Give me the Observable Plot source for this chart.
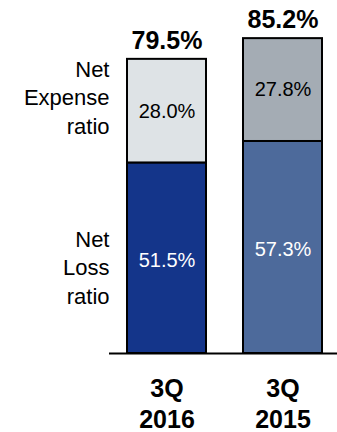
<!DOCTYPE html>
<html>
<head>
<meta charset="utf-8">
<script src="https://cdn.jsdelivr.net/npm/d3@7"></script>
<script src="https://cdn.jsdelivr.net/npm/@observablehq/plot@0.6"></script>
<style>
  html, body { margin: 0; padding: 0; background: #fff; }
  #chart svg { display: block; font-family: "Liberation Sans", Arial, sans-serif; }
</style>
</head>
<body>
<div id="chart"></div>
<script>
// ---- data ----
const periods = ["3Q\n2016", "3Q\n2015"];
const lossRatio = [51.5, 57.3];
const expenseRatio = [28.0, 27.8];
const combinedRatio = [79.5, 85.2];
const componentLabels = ["Net\nLoss\nratio", "Net\nExpense\nratio"];

// ---- styles ----
const segmentColors = {
  "3Q\n2016|loss": "#14358a",
  "3Q\n2016|expense": "#dee3e6",
  "3Q\n2015|loss": "#4d6a9b",
  "3Q\n2015|expense": "#a4acb4"
};

// build table
const rows = [];
periods.forEach((p, i) => {
  rows.push({period: p, part: "loss", value: lossRatio[i], y1: 0, y2: lossRatio[i]});
  rows.push({period: p, part: "expense", value: expenseRatio[i], y1: lossRatio[i], y2: lossRatio[i] + expenseRatio[i]});
});
rows.forEach(d => { d.mid = (d.y1 + d.y2) / 2; d.key = d.period + "|" + d.part; });
const totals = periods.map((p, i) => ({period: p, total: combinedRatio[i]}));
const lossFirst = rows.find(d => d.period === periods[0] && d.part === "loss");
const expFirst = rows.find(d => d.period === periods[0] && d.part === "expense");

const font = "Liberation Sans, Arial, sans-serif";

const chart = Plot.plot({
  width: 337,
  height: 432,
  marginLeft: 109,
  marginRight: 0,
  marginTop: 20,
  marginBottom: 79,
  style: {fontFamily: font, background: "white"},
  x: {domain: periods, axis: null, paddingInner: 0.318, paddingOuter: 0.1375, align: 0.5625},
  y: {domain: [0, 90], axis: null},
  color: {domain: Object.keys(segmentColors), range: Object.values(segmentColors)},
  marks: [
    Plot.barY(rows, {x: "period", y1: "y1", y2: "y2", fill: "key", stroke: "black", strokeWidth: 2}),
    Plot.text(rows.filter(d => d.part === "expense"), {
      x: "period", y: "mid", text: d => d.value.toFixed(1) + "%",
      fill: "black", fontSize: 20, fontFamily: font
    }),
    Plot.text(rows.filter(d => d.part === "loss"), {
      x: "period", y: "mid", text: d => d.value.toFixed(1) + "%",
      fill: "white", fontSize: 20, fontFamily: font, dy: 2
    }),
    Plot.text(totals, {
      x: "period", y: "total", text: d => d.total.toFixed(1) + "%",
      lineAnchor: "bottom", dy: -10, fontSize: 25, fontWeight: "bold", fill: "black", fontFamily: font
    }),
    Plot.text([expFirst], {
      y: "mid", text: () => componentLabels[1], frameAnchor: "left", textAnchor: "end",
      dy: -15, fontSize: 22, lineHeight: 1.3, fill: "black", fontFamily: font
    }),
    Plot.text([lossFirst], {
      y: "mid", text: () => componentLabels[0], frameAnchor: "left", textAnchor: "end",
      dy: 8, fontSize: 22, lineHeight: 1.3, fill: "black", fontFamily: font
    }),
    Plot.ruleY([0], {stroke: "black", strokeWidth: 2}),
    Plot.text(periods, {
      x: d => d, text: d => d, frameAnchor: "bottom", lineAnchor: "top", dy: 21,
      fontSize: 25, fontWeight: "bold", lineHeight: 1.24, fill: "black", fontFamily: font
    })
  ]
});
document.getElementById("chart").appendChild(chart);
</script>
</body>
</html>
